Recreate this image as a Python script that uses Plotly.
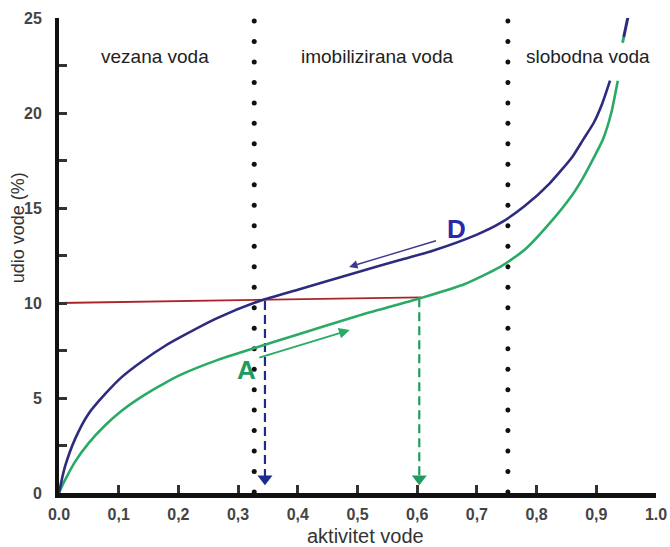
import numpy as np
import plotly.graph_objects as go

# ---- data ----
desorp_x = [0, 0.005, 0.01, 0.027, 0.049, 0.077, 0.105, 0.14, 0.178, 0.208, 0.264, 0.337, 0.40,
            0.487, 0.571, 0.626, 0.70, 0.739, 0.78, 0.822, 0.86, 0.878, 0.896, 0.91, 0.923]
desorp_y = [0, 0.75, 1.39, 2.85, 4.15, 5.2, 6.1, 6.95, 7.75, 8.28, 9.19, 10.12, 10.7,
            11.5, 12.26, 12.75, 13.6, 14.2, 15.1, 16.3, 17.7, 18.6, 19.5, 20.5, 21.7]

adsorp_x = [0, 0.005, 0.01, 0.027, 0.049, 0.077, 0.105, 0.14, 0.178, 0.208, 0.264, 0.337, 0.37,
            0.404, 0.5, 0.605, 0.68, 0.739, 0.78, 0.822, 0.86, 0.878, 0.895, 0.911, 0.925, 0.936]
adsorp_y = [0, 0.36, 0.68, 1.65, 2.6, 3.55, 4.33, 5.1, 5.8, 6.28, 6.98, 7.72, 8.05,
            8.38, 9.32, 10.25, 11.0, 11.9, 12.8, 14.2, 15.7, 16.6, 17.6, 18.6, 20.0, 21.7]

top_blue_x = [0.946, 0.954]
top_blue_y = [24.0, 25.2]
top_green_x = [0.944, 0.946]
top_green_y = [23.7, 24.0]

red_x = [0, 0.607]
red_y = [10.0, 10.3]

drop_blue_x = 0.345
drop_blue_top = 10.1
drop_green_x = 0.6035
drop_green_top = 10.25

boundaries = [0.327, 0.752]

region_labels = ["vezana voda", "imobilizirana voda", "slobodna voda"]
region_x = [0.161, 0.534, 0.886]
region_y = 22.95

x_ticks = [0.0, 0.1, 0.2, 0.3, 0.4, 0.5, 0.6, 0.7, 0.8, 0.9, 1.0]
x_ticktext = ["0.0", "0,1", "0,2", "0,3", "0,4", "0,5", "0,6", "0,7", "0,8", "0,9", "1.0"]
y_ticks = [0, 2.5, 5, 7.5, 10, 12.5, 15, 17.5, 20, 22.5, 25]
y_ticktext = ["0", "", "5", "", "10", "", "15", "", "20", "", "25"]

# ---- colours / styles ----
BLUE = "#2d2b7f"
GREEN = "#2aaa66"
RED = "#a8262a"
DBLUE = "#1c2c8c"
DGREEN = "#229a60"
FONT = "Liberation Sans"

fig = go.Figure()

# dotted boundaries
dot_y = np.arange(0.05, 25.0, 1.078)
for bx in boundaries:
    fig.add_trace(go.Scatter(x=[bx] * len(dot_y), y=dot_y, mode="markers",
                             marker=dict(color="#111", size=5), hoverinfo="skip",
                             cliponaxis=False))

# red horizontal
fig.add_trace(go.Scatter(x=red_x, y=red_y, mode="lines", line=dict(color=RED, width=1.8)))

# dashed drops
for dx, dtop, col in [(drop_blue_x, drop_blue_top, DBLUE), (drop_green_x, drop_green_top, DGREEN)]:
    fig.add_trace(go.Scatter(x=[dx, dx], y=[dtop, 0.9], mode="lines",
                             line=dict(color=col, width=2.2, dash="9px,5px")))
    fig.add_trace(go.Scatter(x=[dx], y=[0.75], mode="markers",
                             marker=dict(symbol="triangle-down", color=col, size=13)))

# curves
fig.add_trace(go.Scatter(x=adsorp_x, y=adsorp_y, mode="lines",
                         line=dict(color=GREEN, width=2.6, shape="spline", smoothing=0.6)))
fig.add_trace(go.Scatter(x=desorp_x, y=desorp_y, mode="lines",
                         line=dict(color=BLUE, width=2.6, shape="spline", smoothing=0.6)))
fig.add_trace(go.Scatter(x=top_green_x, y=top_green_y, mode="lines", cliponaxis=False,
                         line=dict(color=GREEN, width=3)))
fig.add_trace(go.Scatter(x=top_blue_x, y=top_blue_y, mode="lines", cliponaxis=False,
                         line=dict(color=BLUE, width=3)))

annotations = []
for t, x in zip(region_labels, region_x):
    annotations.append(dict(x=x, y=region_y, xref="x", yref="y", text=t, showarrow=False,
                            font=dict(family=FONT, size=19, color="#222")))

# direction arrows
annotations.append(dict(x=0.486, y=11.9, ax=0.634, ay=13.3, xref="x", yref="y",
                        axref="x", ayref="y", text="", showarrow=True, arrowhead=2,
                        arrowsize=1.2, arrowwidth=1.4, arrowcolor="#3b3a90"))
annotations.append(dict(x=0.487, y=8.58, ax=0.333, ay=7.1, xref="x", yref="y",
                        axref="x", ayref="y", text="", showarrow=True, arrowhead=2,
                        arrowsize=1.2, arrowwidth=1.8, arrowcolor=GREEN))
annotations.append(dict(x=0.666, y=13.9, xref="x", yref="y", text="<b>D</b>", showarrow=False,
                        font=dict(family=FONT, size=26, color="#2a2aa8")))
annotations.append(dict(x=0.314, y=6.47, xref="x", yref="y", text="<b>A</b>", showarrow=False,
                        font=dict(family=FONT, size=26, color="#1f9a60")))

# axis titles
annotations.append(dict(x=0.513, y=-0.0905, xref="paper", yref="paper", text="aktivitet vode",
                        showarrow=False, yanchor="middle",
                        font=dict(family=FONT, size=20, color="#333")))
annotations.append(dict(x=-0.068, y=0.558, xref="paper", yref="paper", text="udio vode (%)",
                        showarrow=False, textangle=-90, xanchor="center", yanchor="middle",
                        font=dict(family=FONT, size=18, color="#333")))

fig.update_layout(
    width=670, height=547,
    margin=dict(l=59, r=14, t=18, b=54, autoexpand=False),
    paper_bgcolor="white", plot_bgcolor="white",
    showlegend=False,
    annotations=annotations,
    xaxis=dict(range=[0, 1.0], showgrid=False, zeroline=False, showline=True,
               linecolor="#111", linewidth=5, ticks="inside", ticklen=8, tickwidth=2.5,
               tickcolor="#333", tickvals=x_ticks, ticktext=x_ticktext,
               ticklabelstandoff=3, automargin=False,
               tickfont=dict(family=FONT, size=16, color="#444", weight="bold")),
    yaxis=dict(range=[0, 25], showgrid=False, zeroline=False, showline=True,
               linecolor="#111", linewidth=4, ticks="inside", ticklen=8, tickwidth=2.5,
               tickcolor="#333", tickvals=y_ticks, ticktext=y_ticktext,
               ticklabelstandoff=10, automargin=False,
               tickfont=dict(family=FONT, size=16, color="#444", weight="bold")),
)

fig.write_html("out.html", config={"displayModeBar": False},
               post_script="document.body.style.margin='0px';document.body.style.overflow='hidden';")
